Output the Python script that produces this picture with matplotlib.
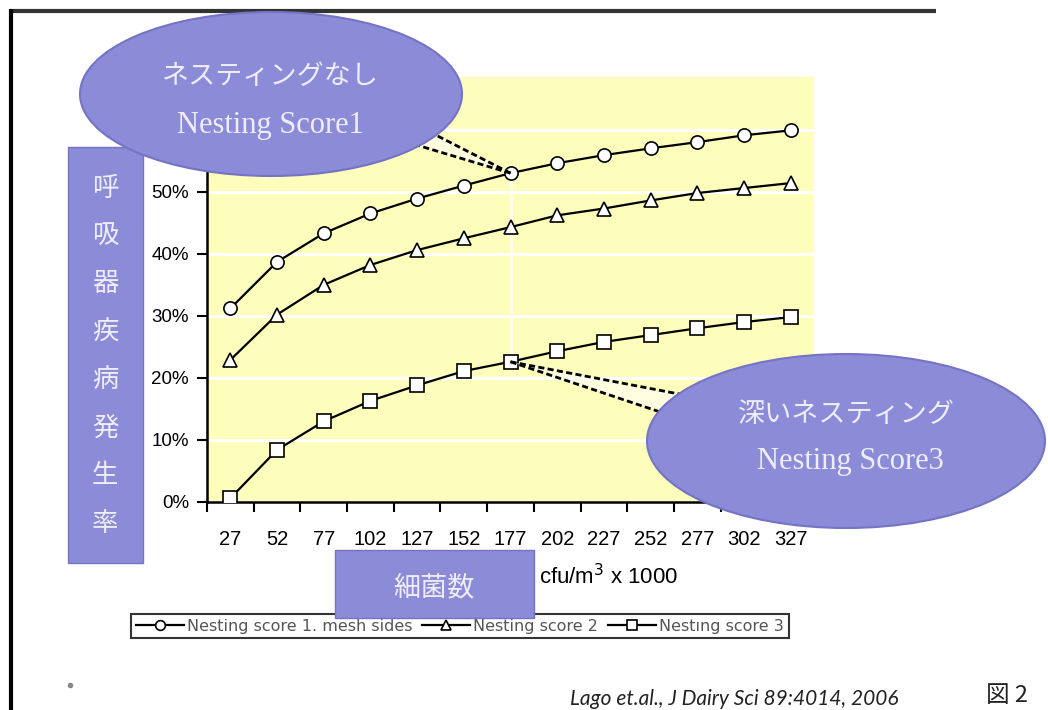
import matplotlib
matplotlib.use("Agg")
import matplotlib.pyplot as plt
from matplotlib.patches import Ellipse, Rectangle, Polygon
from matplotlib.ticker import PercentFormatter
import numpy as np

# ---------- データ ----------
bacteria = ["27", "52", "77", "102", "127", "152", "177",
            "202", "227", "252", "277", "302", "327"]
score1 = [31.2, 38.7, 43.3, 46.5, 48.9, 51.0, 53.0,
          54.6, 55.9, 57.0, 58.0, 59.1, 59.9]
score2 = [22.9, 30.2, 35.0, 38.2, 40.6, 42.5, 44.3,
          46.2, 47.3, 48.6, 49.8, 50.6, 51.4]
score3 = [0.6, 8.4, 13.0, 16.3, 18.8, 21.1, 22.6,
          24.3, 25.8, 26.9, 28.0, 29.0, 29.8]
series_labels = ["Nesting score 1. mesh sides", "Nesting score 2", "Nestıng score 3"]
y_ticks = [0, 10, 20, 30, 40, 50, 60]
y_label_chars = list("呼吸器疾病発生率")
x_label_jp = "細菌数"
x_unit = "cfu/m$^3$ x 1000"
callout1 = ["ネスティングなし", "Nesting Score1"]
callout3 = ["深いネスティング", "Nesting Score3"]
citation = "Lago et.al., J Dairy Sci 89:4014, 2006"
fig_no = "図 2"

W, H = 1048, 710
PURPLE = "#8b8bd8"
PURPLE_EDGE = "#7474c4"
TEXT_LIGHT = "#eeeefa"
JP_SERIF = ["Liberation Serif", "Noto Sans CJK JP"]


def px(x, y):
    """左上原点のピクセル座標を figure 座標へ"""
    return x / W, 1 - y / H


fig = plt.figure(figsize=(W / 100, H / 100), dpi=100)
fig.patch.set_facecolor("white")

# ---------- メインのグラフ ----------
l, b = px(207, 502)
r, t = px(814, 77)
ax = fig.add_axes([l, b, r - l, t - b])
ax.set_facecolor("#fdfdbc")

x = np.arange(len(bacteria))
styles = [("o", 9.5), ("^", 9.5), ("s", 10.5)]
handles = []
for vals, (mk, ms), lab in zip([score1, score2, score3], styles, series_labels):
    h, = ax.plot(x, vals, color="black", lw=1.6, marker=mk, ms=ms,
                 mfc="white", mec="black", mew=1.2, label=lab, zorder=3)
    handles.append(h)

ax.set_xlim(-0.5, len(bacteria) - 0.5)
ax.set_ylim(0, 68.5)
ax.set_yticks(y_ticks)
ax.yaxis.set_major_formatter(PercentFormatter(decimals=0))
ax.set_xticks(np.arange(-0.5, len(bacteria)))
ax.set_xticklabels([])
ax.set_xticks(x, minor=True)
ax.set_xticklabels(bacteria, minor=True, fontsize=14.5, family="Liberation Sans")
ax.tick_params(axis="x", which="major", length=7, width=1.5, direction="out")
ax.tick_params(axis="x", which="minor", length=0, pad=20)
ax.tick_params(axis="y", length=7, width=1.5, pad=6, labelsize=13.5)
for lab in ax.get_yticklabels():
    lab.set_family("Liberation Sans")
# 60% の目盛りは吹き出しの下に隠れる
ax.get_yticklabels()[-1].set_visible(False)
ax.yaxis.get_major_ticks()[-1].tick1line.set_visible(False)

ax.grid(axis="y", color="white", lw=2.2)
ax.set_axisbelow(True)
for s in ["top", "right"]:
    ax.spines[s].set_visible(False)
for s in ["left", "bottom"]:
    ax.spines[s].set_linewidth(1.8)

# 177 の位置の白い縦線
ax.plot([6, 6], [score3[6], score1[6]], color="white", lw=2, alpha=0.9, zorder=2)

# ---------- 装飾用のオーバーレイ ----------
ov = fig.add_axes([0, 0, 1, 1], zorder=5)
ov.set_xlim(0, W)
ov.set_ylim(H, 0)
ov.axis("off")
ov.patch.set_alpha(0)

# 外枠の線
ov.plot([10, 936], [11, 11], color="#333333", lw=3, solid_capstyle="butt")
ov.plot([11, 11], [9, H], color="black", lw=3, solid_capstyle="butt")


def data_px(xi, yi):
    d = ax.transData.transform((xi, yi))
    return ov.transData.inverted().transform(d)


def callout(target, ends):
    tx, ty = target
    wedge = Polygon([(tx, ty), ends[0], ends[1]], closed=True,
                    facecolor="white", alpha=0.55, edgecolor="none", zorder=1)
    ov.add_patch(wedge)
    for ex, ey in ends:
        ov.plot([tx, ex], [ty, ey], color="black", lw=2, ls=(0, (2.2, 1.2)), zorder=2)


p1 = data_px(6, score1[6])
p3 = data_px(6, score3[6])
callout(p1, [(420, 127), (400, 140)])
callout(p3, [(700, 398), (690, 422)])

# 楕円の吹き出し
ov.add_patch(Ellipse((271, 94), 382, 164, facecolor=PURPLE, edgecolor=PURPLE_EDGE,
                     lw=1.5, zorder=4))
ov.add_patch(Ellipse((846, 441), 398, 174, facecolor=PURPLE, edgecolor=PURPLE_EDGE,
                     lw=1.5, zorder=4))
ov.text(270, 78, callout1[0], ha="center", va="center", fontsize=19.5,
        color=TEXT_LIGHT, family=JP_SERIF, zorder=5)
ov.text(270, 126, callout1[1], ha="center", va="center", fontsize=22,
        color=TEXT_LIGHT, family=JP_SERIF, zorder=5)
ov.text(846, 415, callout3[0], ha="center", va="center", fontsize=19.5,
        color=TEXT_LIGHT, family=JP_SERIF, zorder=5)
ov.text(850, 462, callout3[1], ha="center", va="center", fontsize=22,
        color=TEXT_LIGHT, family=JP_SERIF, zorder=5)

# 縦軸ラベルの箱
ov.add_patch(Rectangle((68, 147), 75, 416, facecolor=PURPLE, edgecolor=PURPLE_EDGE,
                       lw=1, zorder=3))
for i, ch in enumerate(y_label_chars):
    ov.text(105, 189 + i * 47.8, ch, ha="center", va="center", fontsize=19,
            color=TEXT_LIGHT, family=JP_SERIF, zorder=5)

# 横軸ラベルの箱
ov.add_patch(Rectangle((335, 550), 199, 68, facecolor=PURPLE, edgecolor=PURPLE_EDGE,
                       lw=1, zorder=4))
ov.text(434, 588, x_label_jp, ha="center", va="center", fontsize=19.5,
        color=TEXT_LIGHT, family=JP_SERIF, zorder=5)
ov.text(539, 577, x_unit, ha="left", va="center", fontsize=16,
        color="black", family="Liberation Sans", zorder=5)

# 凡例
leg = fig.legend(handles=handles, loc="center", bbox_to_anchor=px(460, 626),
                 ncol=3, frameon=True, fancybox=False, edgecolor="black",
                 handlelength=3.0, handletextpad=0.2,
                 columnspacing=0.6, borderpad=0.3, borderaxespad=0,
                 prop={"family": "DejaVu Sans", "size": 11.5})
leg.get_frame().set_linewidth(1.5)
for h in leg.legend_handles:
    h.set_markersize(7)
for tx in leg.get_texts():
    tx.set_color("#555555")
leg.set_zorder(3)

# 出典と図番号
ov.text(734, 699, citation, ha="center", va="center", fontsize=15,
        style="italic", family="Lato", color="#222222")
ov.text(1007, 696, fig_no, ha="center", va="center", fontsize=17,
        family="Noto Sans CJK JP", color="#222222")
ov.plot([70], [685], marker="o", ms=3, color="#888888")

fig.savefig("out.png", dpi=100)
